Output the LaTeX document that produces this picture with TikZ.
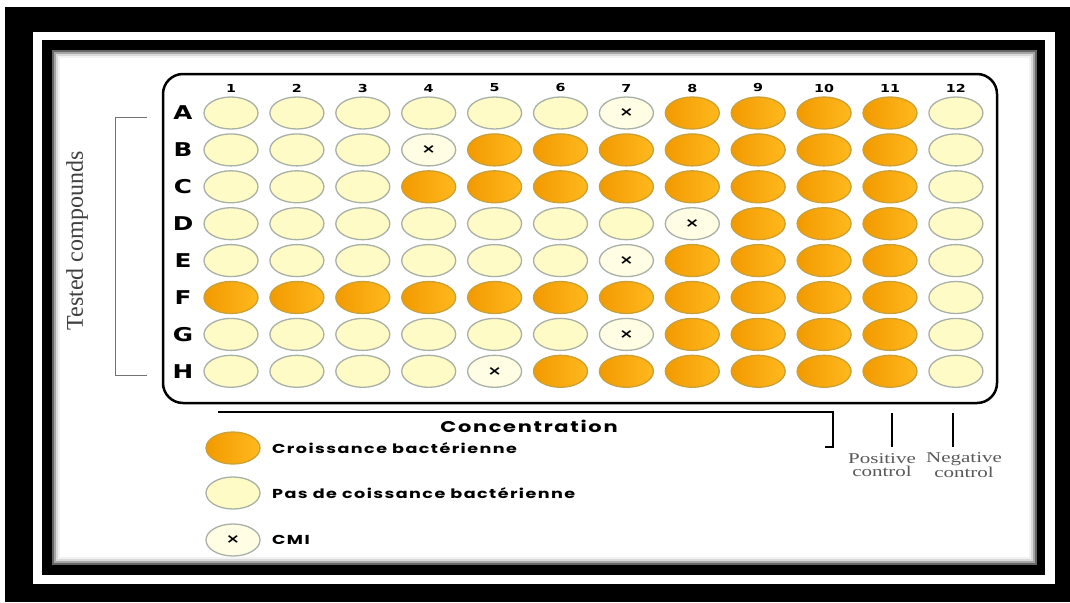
\documentclass[tikz,border=0pt]{standalone}
\usepackage{fontspec}
\setmainfont{Liberation Serif}
\newfontfamily\platefont[FakeStretch=1.3]{DejaVu Sans}
\newfontfamily\legendfont[FakeStretch=1.35, LetterSpace=11]{Poppins}
\newfontfamily\ctrlfont[FakeStretch=1.4]{Liberation Serif}
\usepackage{xcolor}
\usepackage{tikz}
\usetikzlibrary{shapes.geometric, positioning, calc}

\definecolor{growthdark}{HTML}{F29A00}
\definecolor{growthlight}{HTML}{FFB91E}
\definecolor{growthedge}{HTML}{C9A03A}
\definecolor{nogrowthfill}{HTML}{FFFBC6}
\definecolor{cmifill}{HTML}{FFFDE4}
\definecolor{welledge}{HTML}{A9B0A6}
\definecolor{labelgray}{HTML}{5A5A5A}

\begin{document}
\begin{tikzpicture}[x=1pt, y=-1pt,
    well/.style={ellipse, minimum width=54pt, minimum height=32pt, inner sep=0pt, line width=1.3pt},
    growth/.style={well, draw=growthedge, left color=growthdark, right color=growthlight},
    nogrowth/.style={well, draw=welledge, fill=nogrowthfill},
    cmiwell/.style={well, draw=welledge, fill=cmifill, font=\platefont\bfseries\fontsize{13}{13}\selectfont},
    wellkind/.code={\pgfkeysalso{#1}},
    rowlabel/.style={font=\platefont\bfseries\fontsize{19}{19}\selectfont},
    collabel/.style={font=\platefont\bfseries\fontsize{11}{11}\selectfont},
    legendtext/.style={anchor=west, inner sep=0pt, font=\legendfont\bfseries\fontsize{13}{13}\selectfont},
    ctrltext/.style={align=center, text=labelgray, inner sep=0pt, font=\ctrlfont\fontsize{15}{13.5}\selectfont},
    tick/.style={line width=2.5pt}]
    \useasboundingbox (0,0) rectangle (1070,602);

    % Frame
    \fill[white] (0,0) rectangle (1070,602);
    \fill[black] (5,7) rectangle (1070,602);
    \fill[white] (33,32) rectangle (1055,584);
    \fill[black] (42,40) rectangle (1045,575);
    \fill[black!60] (52,50) rectangle (1037,565);
    \fill[black!35] (54,52) rectangle (1035,563);
    \fill[black!15] (56,54) rectangle (1033,561);
    \fill[black!5] (58,56) rectangle (1031,559);
    \fill[white] (60,58) rectangle (1029,557);

    % Plate
    \draw[line width=2.5pt, rounded corners=20pt] (163,74) rectangle (997,403);

    % Column numbers
    \foreach \c in {1,...,12}
        \node[collabel] (col\c) at ({231+65.9*(\c-1)}, 88) {\c};

    % Wells: row / column of the CMI / first column with growth
    \foreach \r/\cmi/\grow [count=\i] in {A/7/8, B/4/5, C/0/4, D/8/9, E/7/8, F/0/1, G/7/8, H/5/6} {
        \node[rowlabel] (row\r) at (183, {113+36.9*(\i-1)}) {\r};
        \foreach \c in {1,...,12} {
            \ifnum\c=\cmi \def\wstyle{cmiwell}\else
                \ifnum\c<\grow \def\wstyle{nogrowth}\else
                    \ifnum\c=12 \def\wstyle{nogrowth}\else \def\wstyle{growth}\fi
                \fi
            \fi
            \node[wellkind/.expanded=\wstyle] (w\r\c) at ({231+65.9*(\c-1)}, {113+36.9*(\i-1)}) {\ifnum\c=\cmi ×\fi};
        }
    }

    % Tested compounds
    \coordinate (tc-top) at (147,117);
    \coordinate (tc-bot) at (147,375);
    \draw[black!55, line width=1pt] (tc-top) -- ++(-32,0) |- (tc-bot);
    \node[rotate=90, text=black!75, font=\fontsize{24}{24}\selectfont] (tested) at (77,241) {Tested compounds};

    % Concentration
    \coordinate (conc-start) at (218,412);
    \coordinate (conc-end) at (825,447);
    \draw[line width=2pt] (conc-start) -- ++(615,0) |- (conc-end);
    \node[font=\legendfont\bfseries\fontsize{15.5}{15.5}\selectfont] (conc) at (529,426) {Concentration};

    % Controls
    \coordinate (pos-tick) at (892,413);
    \coordinate (neg-tick) at (953,413);
    \draw[tick] (pos-tick) -- ++(0,34);
    \draw[tick] (neg-tick) -- ++(0,34);
    \node[ctrltext] (pos-ctrl) at (882,465) {Positive\\control};
    \node[ctrltext] (neg-ctrl) at (964,465) {Negative\\control};

    % Legend
    \node[growth] (leg-growth) at (233,448) {};
    \node[nogrowth] (leg-nogrowth) at (233,493) {};
    \node[cmiwell] (leg-cmi) at (233,540) {×};
    \node[legendtext] (txt-growth) at (272,448) {Croissance bactérienne};
    \node[legendtext] (txt-nogrowth) at (272,493) {Pas de coissance bactérienne};
    \node[legendtext] (txt-cmi) at (272,540) {CMI};
\end{tikzpicture}
\end{document}
